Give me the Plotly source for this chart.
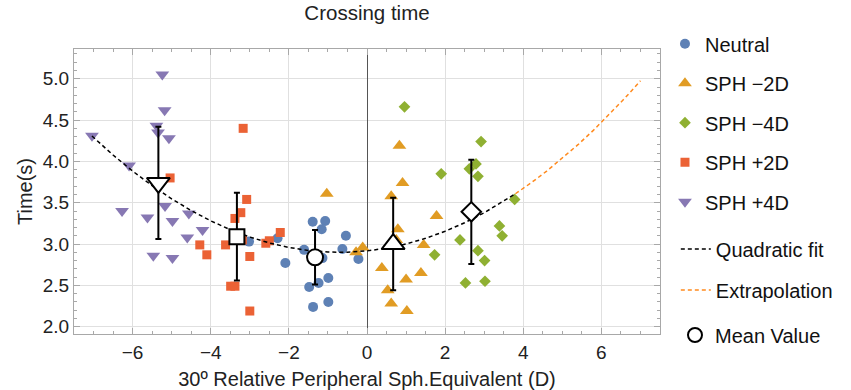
import plotly.graph_objects as go

# ---------------- data ----------------
neutral_x = [-3.02, -2.29, -2.09, -1.61, -1.39, -1.07, -1.16, -0.54, -0.63, -0.22,
             -1.48, -1.24, -0.99, -1.38, -0.99, -1.14]
neutral_y = [3.03, 3.07, 2.77, 2.93, 3.27, 3.28, 3.18, 3.10, 2.94, 2.82,
             2.48, 2.53, 2.59, 2.24, 2.30, 2.83]

sphm2_x = [-1.03, -0.28, -0.11, 0.83, 0.91, 0.62, 0.79, 1.78, 1.45, 0.38,
           1.38, 1.00, 0.53, 0.62, 1.02, 0.75]
sphm2_y = [3.61, 2.90, 2.96, 4.19, 3.74, 3.58, 3.18, 3.34, 2.99, 2.71,
           2.65, 2.57, 2.44, 2.28, 2.19, 3.05]

sphm4_x = [0.96, 2.92, 1.90, 2.62, 2.79, 2.84, 3.78, 3.39, 3.46, 2.38,
           1.73, 2.84, 3.01, 2.52, 3.02]
sphm4_y = [4.66, 4.24, 3.85, 3.91, 3.97, 3.82, 3.54, 3.22, 3.10, 3.05,
           2.87, 2.92, 2.80, 2.53, 2.55]

sphp2_x = [-5.04, -4.28, -4.10, -3.62, -3.49, -3.38, -3.38, -3.23, -3.08, -3.17,
           -3.19, -3.00, -3.00, -2.59, -2.50, -2.22]
sphp2_y = [3.80, 2.99, 2.87, 2.99, 2.49, 2.49, 3.31, 3.38, 3.54, 4.40,
           3.05, 2.85, 2.19, 3.01, 3.04, 3.14]

sphp4_x = [-7.04, -5.24, -5.18, -5.39, -5.35, -5.07, -6.09, -6.27, -5.17, -5.62,
           -4.98, -4.56, -4.60, -4.21, -5.47, -4.98]
sphp4_y = [4.31, 5.05, 4.62, 4.43, 4.35, 4.28, 3.95, 3.40, 3.46, 3.32,
           3.28, 3.37, 3.08, 3.17, 2.86, 2.83]

mean_x = [-1.33, 0.67, 2.67, -3.33, -5.34]
mean_y = [2.84, 3.00, 3.39, 3.09, 3.74]
mean_err = [0.33, 0.56, 0.63, 0.53, 0.68]

# quadratic fit: y = K + A*(x - H)^2
FIT_A, FIT_H, FIT_K = 0.035, -0.7, 2.90
fit_x = [-7.04, -6.5, -6.0, -5.5, -5.0, -4.5, -4.0, -3.5, -3.0, -2.5, -2.0, -1.5,
         -1.0, -0.5, 0.0, 0.5, 1.0, 1.5, 2.0, 2.5, 3.0, 3.5, 3.8]
ext_x = [3.8, 4.2, 4.6, 5.0, 5.4, 5.8, 6.2, 6.6, 7.0]
fit_y = [FIT_K + FIT_A * (x - FIT_H) ** 2 for x in fit_x]
ext_y = [FIT_K + FIT_A * (x - FIT_H) ** 2 for x in ext_x]

x_ticks = [-6, -4, -2, 0, 2, 4, 6]
y_ticks = [2.0, 2.5, 3.0, 3.5, 4.0, 4.5, 5.0]

# ---------------- style ----------------
FONT = "Liberation Sans, Arial, sans-serif"
C_BLUE, C_ORANGE, C_GREEN, C_RED, C_PURPLE = "#5E81B5", "#E19C24", "#8FB032", "#EB6235", "#8778B3"

fig = go.Figure()

series = [
    ("Neutral", neutral_x, neutral_y, "circle", C_BLUE, 10),
    ("SPH \u22122D", sphm2_x, sphm2_y, "triangle-up", C_ORANGE, 12),
    ("SPH \u22124D", sphm4_x, sphm4_y, "diamond", C_GREEN, 9),
    ("SPH +2D", sphp2_x, sphp2_y, "square", C_RED, 9),
    ("SPH +4D", sphp4_x, sphp4_y, "triangle-down", C_PURPLE, 12),
]
for i, (name, xs, ys, sym, col, sz) in enumerate(series):
    fig.add_trace(go.Scatter(
        x=xs, y=ys, mode="markers", name=name, legendgroup=f"g{i}", legend="legend",
        marker=dict(symbol=sym, color=col, size=sz, opacity=1, line=dict(width=0)),
    ))

fig.add_trace(go.Scatter(
    x=fit_x, y=fit_y, mode="lines", name="Quadratic fit", legendgroup="g5", legend="legend2",
    line=dict(color="black", width=1.5, dash="4px,3px"),
))
fig.add_trace(go.Scatter(
    x=ext_x, y=ext_y, mode="lines", name="Extrapolation", legendgroup="g6", legend="legend2",
    line=dict(color="#FF8A1E", width=1.5, dash="4px,3px"),
))

# error bars of the means (drawn first, under the mean markers)
fig.add_trace(go.Scatter(
    x=mean_x, y=mean_y, mode="markers", showlegend=False, hoverinfo="skip",
    marker=dict(size=1, opacity=0),
    error_y=dict(type="data", array=mean_err, color="black", thickness=2, width=3),
))
fig.add_trace(go.Scatter(
    x=mean_x, y=mean_y, mode="markers", showlegend=False,
    marker=dict(symbol=["circle", "triangle-up", "diamond", "square", "triangle-down"],
                size=[16, 20, 15, 15, 20], color="white", opacity=1,
                line=dict(color="black", width=2)),
))
fig.add_trace(go.Scatter(
    x=[None], y=[None], mode="markers", name="Mean Value", legendgroup="g7", legend="legend3",
    marker=dict(symbol="circle", size=14, color="white", opacity=1,
                line=dict(color="black", width=2)),
))

axis_common = dict(
    showline=True, linecolor="#a8a8a8", linewidth=1, mirror="ticks",
    ticks="inside", ticklen=6, tickcolor="#a8a8a8", tickwidth=1,
    showgrid=True, gridcolor="#e0e0e0", gridwidth=1,
    tickfont=dict(family=FONT, size=19, color="#222"),
    title_font=dict(family=FONT, size=20, color="#222"),
)

fig.update_xaxes(
    **axis_common, automargin=False, range=[-7.5, 7.5], tickvals=x_ticks,
    minor=dict(dtick=0.5, ticks="inside", ticklen=3, tickcolor="#a8a8a8", showgrid=False),
    zeroline=True, zerolinecolor="#555555", zerolinewidth=1,
    ticklabelstandoff=1,
    title_text="30\u00ba Relative Peripheral Sph.Equivalent (D)",
)
fig.update_yaxes(
    **axis_common, automargin=True, range=[1.912, 5.36], tickvals=y_ticks,
    ticktext=[f"{v:.1f}" for v in y_ticks],
    minor=dict(dtick=0.1, ticks="inside", ticklen=3, tickcolor="#a8a8a8", showgrid=False),
    zeroline=False, title_text="Time(s)", title_standoff=4,
)

legend_font = dict(family=FONT, size=20, color="#111")
fig.update_layout(
    width=851, height=390,
    margin=dict(l=74, r=191, t=49, b=56),
    paper_bgcolor="white", plot_bgcolor="white",
    font=dict(family=FONT, size=19, color="#222"),
    title=dict(text="Crossing time", xref="paper", x=0.5, xanchor="center",
               y=0.968, yanchor="middle",
               font=dict(family=FONT, size=20.5, color="#222")),
    legend=dict(x=1.0085, xanchor="left", y=1.087, yanchor="top", font=legend_font,
                tracegroupgap=10.5, itemsizing="trace", bgcolor="rgba(0,0,0,0)", maxheight=390),
    legend2=dict(x=1.027, xanchor="left", y=0.367, yanchor="top", font=legend_font,
                 tracegroupgap=12, itemsizing="trace", bgcolor="rgba(0,0,0,0)"),
    legend3=dict(x=1.0256, xanchor="left", y=0.065, yanchor="top", font=legend_font,
                 itemsizing="trace", bgcolor="rgba(0,0,0,0)"),
)

fig.write_html("out.html", config={"displayModeBar": False},
               post_script="document.body.style.margin='0';")
